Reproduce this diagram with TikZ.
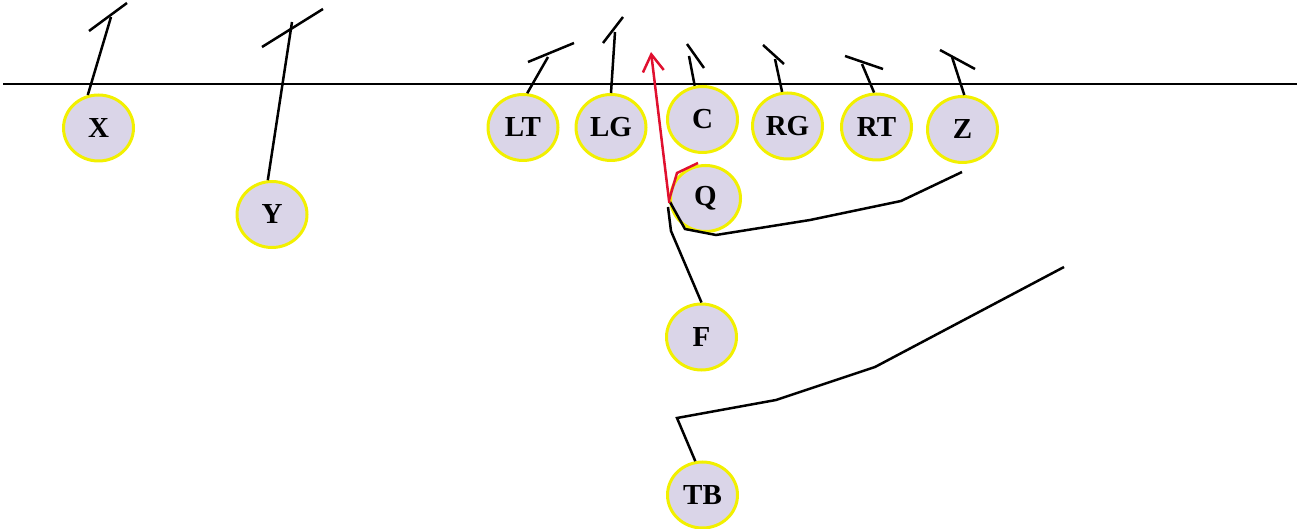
\documentclass[tikz,border=0pt]{standalone}
\usepackage{fontspec}
\setmainfont{Liberation Serif}
\usetikzlibrary{shapes.geometric,arrows.meta}
\definecolor{plfill}{HTML}{DAD5E8}
\definecolor{plborder}{HTML}{F2F000}
\definecolor{routered}{HTML}{E0102F}
\tikzset{
  player/.style={ellipse, draw=plborder, fill=plfill, line width=3pt,
    minimum width=70pt, minimum height=66pt, inner sep=0pt,
    font=\fontsize{29}{31}\selectfont\bfseries},
  route/.style={line width=2.5pt, black, line join=miter},
  redroute/.style={line width=2.5pt, routered},
}
\begin{document}
\begin{tikzpicture}[x=1pt,y=-1pt]
\useasboundingbox (0,0) rectangle (1299,529);
% line of scrimmage
\coordinate (losL) at (3,84);
\coordinate (losR) at (1297,84);
\draw[line width=2.5pt] (losL) -- (losR);
% players
\node[player] (X) at (98.5,128) {X};
\node[player] (Y) at (272,214.5) {Y};
\node[player] (LT) at (523,127.5) {LT};
\node[player] (LG) at (611,127.5) {LG};
\node[player] (C) at (702.5,119.5) {C};
\node[player] (Q) at (705.5,198.5) {Q};
\node[player] (RG) at (787.5,126) {RG};
\node[player] (RT) at (876.5,127) {RT};
\node[player] (Z) at (962.5,129.5) {Z};
\node[player] (F) at (701.5,337) {F};
\node[player] (TB) at (702.5,495) {TB};
% blocking / route marks
\draw[route] (X.108) -- (111,17);
\draw[route] (89,31) -- (127,3);
\draw[route] (Y.97) -- (292,22);
\draw[route] (262,47) -- (323,9);
\draw[route] (LT.83) -- (548,57);
\draw[route] (528,62) -- (574,43);
\draw[route] (LG.90) -- (615,32);
\draw[route] (603,43) -- (623,17);
\draw[route] (C.103) -- (689,56);
\draw[route] (687,44) -- (704,68);
\draw[route] (RG.99) -- (775,59);
\draw[route] (763,45) -- (784,64);
\draw[route] (RT.94) -- (862,64);
\draw[route] (845,56) -- (883,69);
\draw[route] (Z.87) -- (952,57);
\draw[route] (940,50) -- (975,69);
% Q / Z long route
\draw[route] (670,202) -- (685,229) -- (716,235) -- (810,220) -- (901,201) -- (962,172);
% F route
\draw[route] (F.90) -- (671,231) -- (668,207);
% TB route
\draw[route] (TB.102) -- (677,418) -- (776,400) -- (875,367) -- (1064,267);
% red QB route
\draw[redroute, -{Straight Barb[length=17pt,width=21pt]}] (Q.187) -- (651,52);
\draw[redroute] (669,200) -- (677,173) -- (698,163);
\end{tikzpicture}
\end{document}
